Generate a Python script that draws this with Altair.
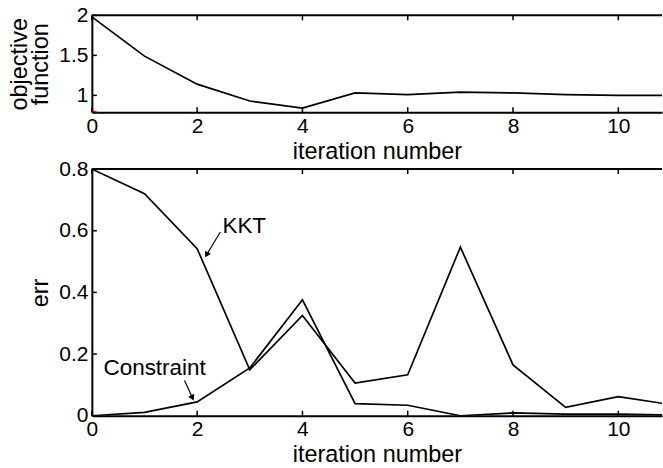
import altair as alt
import pandas as pd

# ---------------- data ----------------
iterations = [0, 1, 2, 3, 4, 5, 6, 7, 8, 9, 10, 11]
objective = [1.98, 1.49, 1.14, 0.93, 0.84, 1.03, 1.01, 1.04, 1.03, 1.01, 1.00, 1.00]
red_iter = [0, 1]
red_objective = [0.81, 0.55]

kkt = [0.80, 0.72, 0.542, 0.149, 0.325, 0.106, 0.133, 0.547, 0.165, 0.027, 0.062, 0.036]
constraint = [0.0, 0.011, 0.045, 0.155, 0.376, 0.039, 0.034, 0.0, 0.009, 0.005, 0.005, 0.002]

x_ticks = [0, 2, 4, 6, 8, 10]
obj_ticks = [1, 1.5, 2]
err_ticks = [0, 0.2, 0.4, 0.6, 0.8]

ann_labels = ["KKT", "Constraint"]
ann_x = [2.48, 0.22]
ann_y = [0.614, 0.156]
arrow_x1 = [2.44, 1.76]
arrow_y1 = [0.596, 0.114]
arrow_x2 = [2.18, 1.91]
arrow_y2 = [0.522, 0.058]
arrow_angle = [28, 335]

# ---------------- layout ----------------
FONT = "Liberation Sans"
W = 571
XMAX = 10.83
H_TOP = 97
H_BOT = 247
TICK = 5

xscale = alt.Scale(domain=[0, XMAX], nice=False, zero=False)

X_AXIS = alt.Axis(values=x_ticks, title="iteration number", ticks=False, grid=False,
                  labelFlush=False, labelOverlap=False, domainColor="black", domainWidth=2,
                  labelPadding=3, titlePadding=3, format="d")


def y_axis(values, title):
    return alt.Axis(values=values, title=title, ticks=False, grid=False, labelFlush=False,
                    labelOverlap=False, domainColor="black", domainWidth=2, labelPadding=4,
                    titlePadding=6, format="~g", titleLineHeight=21)


def frame_layers(H, yscale, yvals):
    xt = pd.DataFrame({"v": x_ticks})
    yt = pd.DataFrame({"v": yvals})
    one = pd.DataFrame({"a": [0]})
    top_border = alt.Chart(one).mark_rule(color="black", strokeWidth=2).encode(
        x=alt.value(0), x2=alt.value(W), y=alt.value(0))
    top_ticks = alt.Chart(xt).mark_rule(color="black", strokeWidth=1.5).encode(
        x=alt.X("v:Q", scale=xscale), y=alt.value(0), y2=alt.value(TICK))
    bot_ticks = alt.Chart(xt).mark_rule(color="black", strokeWidth=1.5).encode(
        x=alt.X("v:Q", scale=xscale), y=alt.value(H), y2=alt.value(H - TICK))
    left_ticks = alt.Chart(yt).mark_rule(color="black", strokeWidth=1.5).encode(
        y=alt.Y("v:Q", scale=yscale), x=alt.value(0), x2=alt.value(TICK))
    return [top_border, top_ticks, bot_ticks, left_ticks]


# ---------------- top panel ----------------
obj_scale = alt.Scale(domain=[0.79, 2], nice=False, zero=False)
obj_df = pd.DataFrame({"iter": iterations, "value": objective})
red_df = pd.DataFrame({"iter": red_iter, "value": red_objective})

obj_line = alt.Chart(obj_df).mark_line(color="black", strokeWidth=1.7, clip=True).encode(
    x=alt.X("iter:Q", scale=xscale, axis=X_AXIS),
    y=alt.Y("value:Q", scale=obj_scale, axis=y_axis(obj_ticks, ["objective", "function"])),
)
red_line = alt.Chart(red_df).mark_line(color="red", strokeWidth=1.7, clip=True).encode(
    x=alt.X("iter:Q", scale=xscale),
    y=alt.Y("value:Q", scale=obj_scale),
)

top = alt.layer(obj_line, red_line, *frame_layers(H_TOP, obj_scale, obj_ticks)).properties(
    width=W, height=H_TOP)

# ---------------- bottom panel ----------------
err_scale = alt.Scale(domain=[0, 0.8], nice=False, zero=False)
err_df = pd.concat([
    pd.DataFrame({"iter": iterations, "value": kkt, "series": "KKT"}),
    pd.DataFrame({"iter": iterations, "value": constraint, "series": "Constraint"}),
])

err_lines = alt.Chart(err_df).mark_line(color="black", strokeWidth=1.7, clip=True).encode(
    x=alt.X("iter:Q", scale=xscale, axis=X_AXIS),
    y=alt.Y("value:Q", scale=err_scale, axis=y_axis(err_ticks, "err")),
    detail="series:N",
)

ann_df = pd.DataFrame({"label": ann_labels, "x": ann_x, "y": ann_y})
ann_text = alt.Chart(ann_df).mark_text(align="left", baseline="middle", font=FONT,
                                       fontSize=22.5, color="black").encode(
    x=alt.X("x:Q", scale=xscale),
    y=alt.Y("y:Q", scale=err_scale),
    text="label:N",
)

arr_df = pd.DataFrame({"x1": arrow_x1, "y1": arrow_y1, "x2": arrow_x2, "y2": arrow_y2,
                       "ang": arrow_angle})
arr_line = alt.Chart(arr_df).mark_rule(color="black", strokeWidth=1.2).encode(
    x=alt.X("x1:Q", scale=xscale),
    y=alt.Y("y1:Q", scale=err_scale),
    x2="x2:Q", y2="y2:Q",
)
arr_head = alt.Chart(arr_df).mark_point(shape="triangle-down", filled=True, color="black",
                                        size=45, opacity=1).encode(
    x=alt.X("x2:Q", scale=xscale),
    y=alt.Y("y2:Q", scale=err_scale),
    angle=alt.Angle("ang:Q", scale=None),
)

bottom = alt.layer(err_lines, arr_line, arr_head, ann_text,
                   *frame_layers(H_BOT, err_scale, err_ticks)).properties(width=W, height=H_BOT)

chart = alt.vconcat(top, bottom, spacing=57, bounds="flush").properties(
    padding={"left": 7, "top": 4, "right": 0, "bottom": 0},
    background="white",
).configure_view(stroke=None).configure_axis(
    labelFont=FONT, titleFont=FONT, labelFontSize=21, titleFontSize=23.5,
    labelColor="black", titleColor="black", titleFontWeight="normal",
)

chart.save("out.html", embed_options={"renderer": "svg", "actions": False})
